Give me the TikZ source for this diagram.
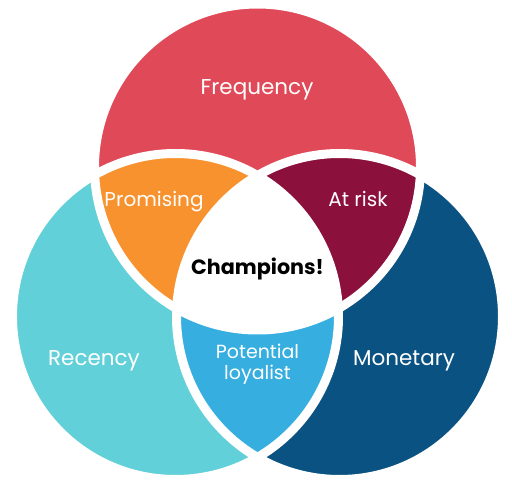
\documentclass[tikz,border=0pt]{standalone}
\usepackage{fontspec}
\setmainfont{Poppins}

\definecolor{freqred}{HTML}{E04A58}
\definecolor{recteal}{HTML}{62D0D8}
\definecolor{monnavy}{HTML}{0A5282}
\definecolor{promorange}{HTML}{F7922E}
\definecolor{riskwine}{HTML}{8C103C}
\definecolor{loyalblue}{HTML}{36AEE0}

\begin{document}
\begin{tikzpicture}[
  x=1pt, y=-1pt,
  setname/.style={text=white, font=\fontsize{21.5}{23}\selectfont, align=center, anchor=base, inner sep=0pt},
  pairname/.style={setname, font=\fontsize{20}{21.7}\selectfont},
  hub/.style={setname, text=black, font=\fontsize{20.7}{22}\selectfont\bfseries},
  gap/.style={draw=white, line width=9pt},
  rad/.style={radius=163pt}
]
\useasboundingbox (0,0) rectangle (512,489);

% =========================
% Circle centres
% =========================
\coordinate (F) at (257.5,167);
\coordinate (R) at (175.5,316.5);
\coordinate (M) at (339.5,316.5);

% =========================
% Single sets
% =========================
\fill[freqred] (F) circle[rad];
\fill[recteal] (R) circle[rad];
\fill[monnavy] (M) circle[rad];

% =========================
% Overlaps
% =========================
\begin{scope}
  \clip (F) circle[rad];
  \fill[promorange] (R) circle[rad];
  \fill[riskwine] (M) circle[rad];
\end{scope}
\begin{scope}
  \clip (R) circle[rad];
  \fill[loyalblue] (M) circle[rad];
  \clip (F) circle[rad];
  \fill[white] (M) circle[rad];
\end{scope}

% white gaps between the pieces
\draw[gap] (F) circle[rad];
\draw[gap] (R) circle[rad];
\draw[gap] (M) circle[rad];

% =========================
% Labels
% =========================
\node[setname] (freq) at (257,94.5) {Frequency};
\node[setname] (rec) at (94,366) {Recency};
\node[setname] (mon) at (404,366) {Monetary};
\node[pairname] (prom) at (154,207) {Promising};
\node[pairname] (risk) at (358,207) {At risk};
\node[pairname, font=\fontsize{19}{21.7}\selectfont] (loyal) at (257.5,380) {Potential\\loyalist};
\node[hub] (champ) at (257.5,275) {Champions!};

\end{tikzpicture}
\end{document}
